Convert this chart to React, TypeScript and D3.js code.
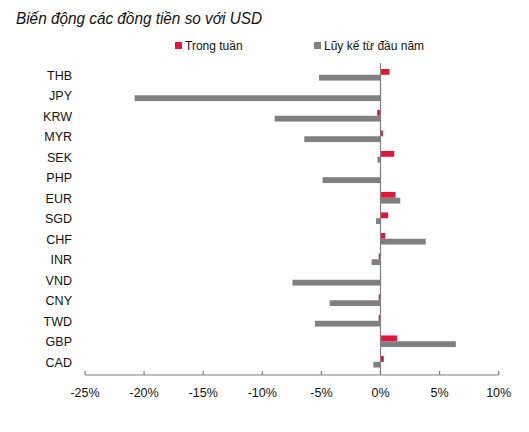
import React from "react";
import * as d3 from "d3";

const categories = ["THB", "JPY", "KRW", "MYR", "SEK", "PHP", "EUR", "SGD", "CHF", "INR", "VND", "CNY", "TWD", "GBP", "CAD"];
const weekly = [0.76, 0.05, -0.28, 0.2, 1.16, 0.05, 1.27, 0.65, 0.4, -0.15, 0.05, -0.15, -0.15, 1.41, 0.28];
const ytd = [-5.2, -20.8, -8.95, -6.45, -0.25, -4.9, 1.67, -0.38, 3.83, -0.75, -7.45, -4.3, -5.55, 6.37, -0.6];
const xTicks = [-25, -20, -15, -10, -5, 0, 5, 10];
const seriesNames = ["Trong tuần", "Lũy kế từ đầu năm"];
const colors = ["#E0173A", "#808080"];
const titleText = "Biến động các đồng tiền so với USD";

const FONT = "'Liberation Sans Narrow', 'Arial Narrow', 'Liberation Sans', Arial, sans-serif";

export default function App() {
  const W = 529, H = 432;
  const x = d3.scaleLinear().domain([-25, 10]).range([85, 498.7]);
  const y = d3.scaleBand().domain(categories).range([64.5, 372]);
  const barH = 5.8;
  const axisY = 375;
  const fmt = (d: number) => `${d}%`;
  return (
    <svg width={W} height={H} style={{ position: "absolute", left: 0, top: 0, background: "#fff" }} fontFamily={FONT}>
      <text x={16} y={24} fontSize={16} fontStyle="italic" fill="#111" textLength={246} lengthAdjust="spacingAndGlyphs">{titleText}</text>
      {seriesNames.map((s, i) => {
        const lx = i === 0 ? 175 : 314;
        return (
          <g key={s}>
            <rect x={lx} y={42} width={7} height={7} fill={colors[i]} />
            <text x={lx + 10} y={49.5} fontSize={12} fill="#111">{s}</text>
          </g>
        );
      })}
      {categories.map((c, i) => {
        const yc = (y(c) as number) + y.bandwidth() / 2;
        const top = yc - barH;
        return (
          <g key={c}>
            <text x={72} y={yc + 1.5} fontSize={12.5} textAnchor="end" fill="#111" dominantBaseline="middle">{c}</text>
            <rect x={Math.min(x(0), x(weekly[i]))} y={top} width={Math.abs(x(weekly[i]) - x(0))} height={barH} fill={colors[0]} />
            <rect x={Math.min(x(0), x(ytd[i]))} y={top + barH} width={Math.abs(x(ytd[i]) - x(0))} height={barH} fill={colors[1]} />
          </g>
        );
      })}
      <line x1={x(0)} x2={x(0)} y1={63} y2={axisY} stroke="#808080" strokeWidth={1.2} />
      <line x1={x(-25)} x2={x(10)} y1={axisY} y2={axisY} stroke="#808080" strokeWidth={1.2} />
      {xTicks.map((t) => (
        <g key={t}>
          <line x1={x(t)} x2={x(t)} y1={axisY - 4} y2={axisY} stroke="#808080" strokeWidth={1.2} />
          <text x={x(t)} y={394} fontSize={12.5} textAnchor="middle" fill="#111" dominantBaseline="middle">{fmt(t)}</text>
        </g>
      ))}
    </svg>
  );
}
